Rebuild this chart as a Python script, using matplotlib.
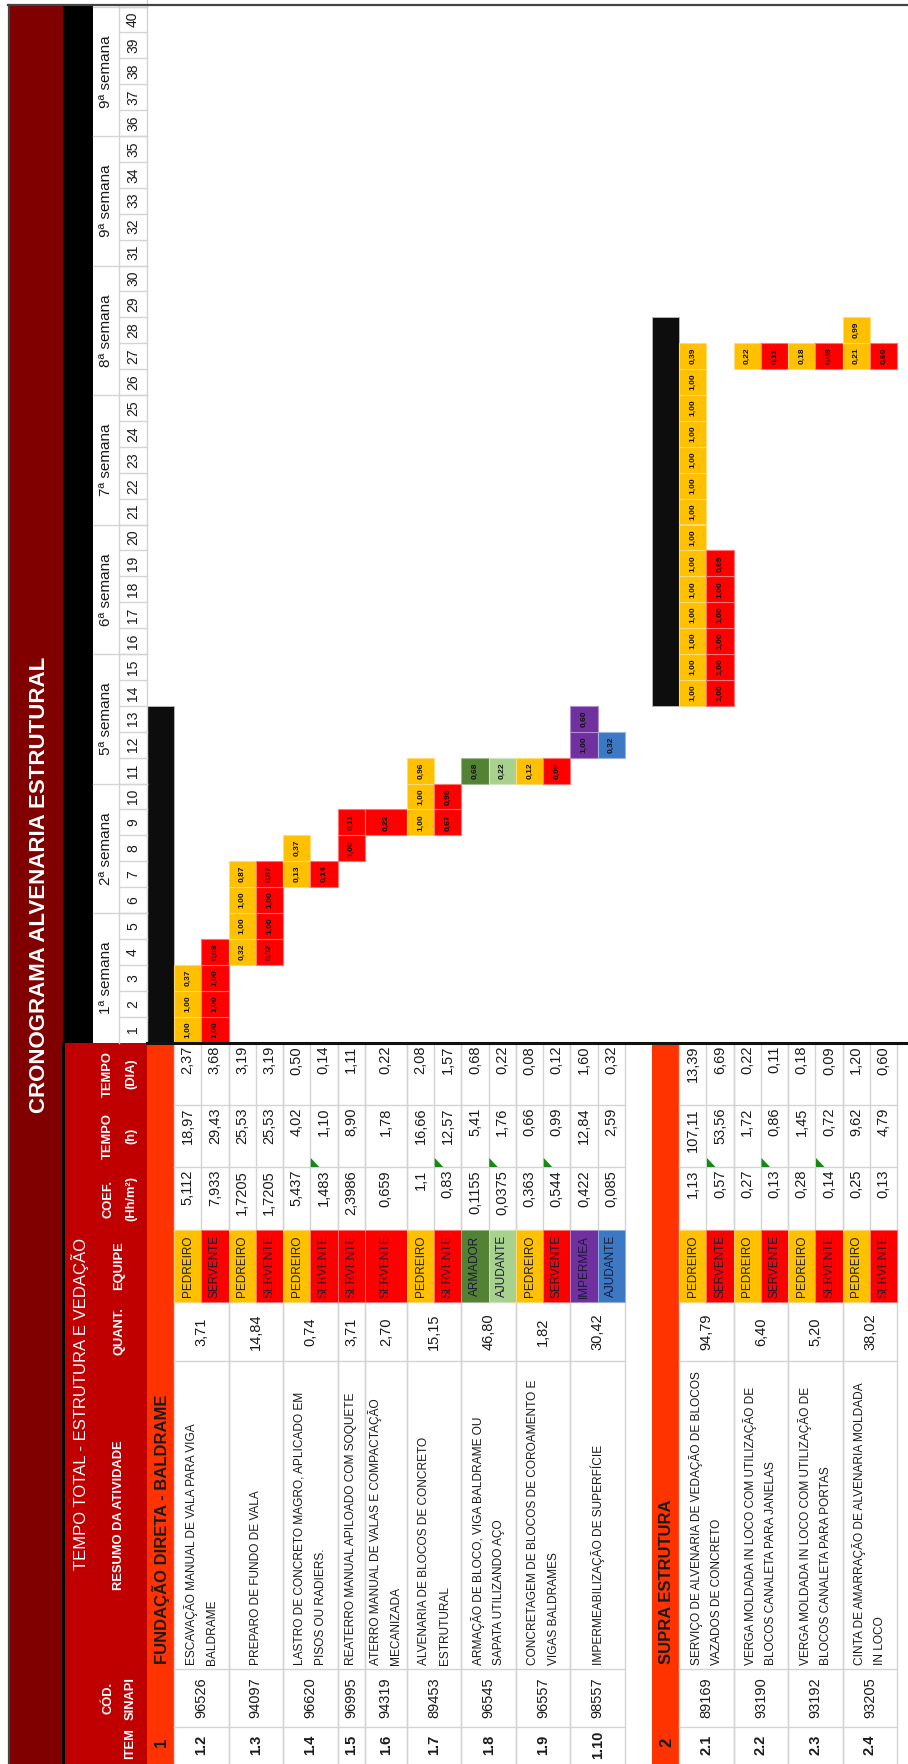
import matplotlib
matplotlib.use("Agg")
import matplotlib.pyplot as plt
from matplotlib.patches import Rectangle, Polygon

# ---------------- data ----------------
weeks = ["1ª semana", "2ª semana", "5ª semana", "6ª semana",
         "7ª semana", "8ª semana", "9ª semana", "9ª semana"]
n_days = 40

sections = ["1", "2"]
section_titles = ["FUNDAÇÃO DIRETA - BALDRAME", "SUPRA ESTRUTURA"]
section_first_day = [1, 14]
section_last_day = [13, 28]

items = ["1.2", "1.3", "1.4", "1.5", "1.6", "1.7", "1.8", "1.9", "1.10",
         "2.1", "2.2", "2.3", "2.4"]
item_section = [0, 0, 0, 0, 0, 0, 0, 0, 0, 1, 1, 1, 1]
codes = ["96526", "94097", "96620", "96995", "94319", "89453", "96545",
         "96557", "98557", "89169", "93190", "93192", "93205"]
descriptions = [
    ["ESCAVAÇÃO MANUAL DE VALA PARA VIGA", "BALDRAME"],
    ["PREPARO DE FUNDO DE VALA"],
    ["LASTRO DE CONCRETO MAGRO, APLICADO EM", "PISOS OU RADIERS."],
    ["REATERRO MANUAL APILOADO COM SOQUETE"],
    ["ATERRO MANUAL DE VALAS E COMPACTAÇÃO", "MECANIZADA"],
    ["ALVENARIA DE BLOCOS DE CONCRETO", "ESTRUTURAL"],
    ["ARMAÇÃO DE BLOCO, VIGA BALDRAME OU", "SAPATA UTILIZANDO AÇO"],
    ["CONCRETAGEM DE BLOCOS DE COROAMENTO E", "VIGAS BALDRAMES"],
    ["IMPERMEABILIZAÇÃO DE SUPERFÍCIE"],
    ["SERVIÇO DE ALVENARIA DE VEDAÇÃO DE BLOCOS", "VAZADOS DE CONCRETO"],
    ["VERGA MOLDADA IN LOCO COM UTILIZAÇÃO DE", "BLOCOS CANALETA PARA JANELAS"],
    ["VERGA MOLDADA IN LOCO COM UTILIZAÇÃO DE", "BLOCOS CANALETA PARA PORTAS"],
    ["CINTA DE AMARRAÇÃO DE ALVENARIA MOLDADA", "IN LOCO"],
]
quantities = [3.71, 14.84, 0.74, 3.71, 2.70, 15.15, 46.80, 1.82, 30.42,
              94.79, 6.40, 5.20, 38.02]
crews = [["PEDREIRO", "SERVENTE"], ["PEDREIRO", "SERVENTE"],
         ["PEDREIRO", "SERVENTE"], ["SERVENTE"], ["SERVENTE"],
         ["PEDREIRO", "SERVENTE"], ["ARMADOR", "AJUDANTE"],
         ["PEDREIRO", "SERVENTE"], ["IMPERMEA", "AJUDANTE"],
         ["PEDREIRO", "SERVENTE"], ["PEDREIRO", "SERVENTE"],
         ["PEDREIRO", "SERVENTE"], ["PEDREIRO", "SERVENTE"]]
coefs = [["5,112", "7,933"], ["1,7205", "1,7205"], ["5,437", "1,483"],
         ["2,3986"], ["0,659"], ["1,1", "0,83"], ["0,1155", "0,0375"],
         ["0,363", "0,544"], ["0,422", "0,085"], ["1,13", "0,57"],
         ["0,27", "0,13"], ["0,28", "0,14"], ["0,25", "0,13"]]
hours = [[18.97, 29.43], [25.53, 25.53], [4.02, 1.10], [8.90], [1.78],
         [16.66, 12.57], [5.41, 1.76], [0.66, 0.99], [12.84, 2.59],
         [107.11, 53.56], [1.72, 0.86], [1.45, 0.72], [9.62, 4.79]]
days_total = [[2.37, 3.68], [3.19, 3.19], [0.50, 0.14], [1.11], [0.22],
              [2.08, 1.57], [0.68, 0.22], [0.08, 0.12], [1.60, 0.32],
              [13.39, 6.69], [0.22, 0.11], [0.18, 0.09], [1.20, 0.60]]

# first day and daily share of each crew in the schedule
start_day = [[1, 1], [4, 4], [7, 7], [8], [9], [9, 9], [11, 11], [11, 11],
             [12, 12], [14, 14], [27, 27], [27, 27], [27, 27]]
daily_share = [
    [[1.00, 1.00, 0.37], [1.00, 1.00, 1.00, 0.68]],
    [[0.32, 1.00, 1.00, 0.87], [0.32, 1.00, 1.00, 0.87]],
    [[0.13, 0.37], [0.14]],
    [[1.00, 0.11]],
    [[0.22]],
    [[1.00, 1.00, 0.96], [0.67, 0.90]],
    [[0.68], [0.22]],
    [[0.12], [0.09]],
    [[1.00, 0.60], [0.32]],
    [[1.00, 1.00, 1.00, 1.00, 1.00, 1.00, 1.00, 1.00, 1.00, 1.00, 1.00,
      1.00, 1.00, 0.39],
     [1.00, 1.00, 1.00, 1.00, 1.00, 0.69]],
    [[0.22], [0.11]],
    [[0.18], [0.09]],
    [[0.21, 0.99], [0.60]],
]
# cells flagged with the little green marker in the hours column
flagged = [(2, 1), (5, 1), (6, 1), (7, 1), (9, 1), (10, 1), (11, 1)]

# ---------------- styles ----------------
DARK_RED = "#800000"
HEAD_RED = "#c00000"
ORANGE = "#ff3300"
YELLOW = "#ffc000"
RED = "#ff0000"
GRID = "#d4d4d4"
TXT = "#1a1a1a"
crew_fill = [[YELLOW, RED], [YELLOW, RED], [YELLOW, RED], [RED], [RED],
             [YELLOW, RED], ["#548235", "#a9d18e"], [YELLOW, RED],
             ["#7030a0", "#3d78c4"], [YELLOW, RED], [YELLOW, RED],
             [YELLOW, RED], [YELLOW, RED]]

SANS = ["Liberation Sans", "DejaVu Sans"]

W, H = 908, 1764
fig = plt.figure(figsize=(W / 100, H / 100), dpi=100)
ax = fig.add_axes([0, 0, 1, 1])
ax.set_xlim(0, W)
ax.set_ylim(H, 0)
ax.axis("off")

# sheet is laid out sideways: columns run along y, rows along x
DAY0, DW = 1042.5, 25.9          # bottom edge of day 1 and day width
U = 27.25                        # height of one crew row
X_BODY = 147                     # first row below the headers
col = {"dia": (1043, 1105), "h": (1105, 1167), "coef": (1167, 1230),
       "equipe": (1230, 1302), "quant": (1302, 1361), "resumo": (1361, 1669),
       "cod": (1669, 1727), "item": (1727, H)}
TABLE_Y0 = 1043


def day_span(d):
    return DAY0 - d * DW, DAY0 - (d - 1) * DW


def box(x0, x1, y0, y1, fc, ec="none", lw=0.0, z=1):
    ax.add_patch(Rectangle((x0, y0), x1 - x0, y1 - y0, facecolor=fc,
                           edgecolor=ec, linewidth=lw, zorder=z))


def vtext(x, y, s, ha="center", size=10, color=TXT, weight="normal", z=5):
    ax.text(x, y, s, rotation=90, rotation_mode="anchor", ha=ha,
            va="center", fontsize=size, family=SANS, color=color,
            fontweight=weight, zorder=z)


def fmt(v):
    return f"{v:.2f}".replace(".", ",")


def tint(c, k=0.45):
    r, g, b = matplotlib.colors.to_rgb(c)
    return (r + (1 - r) * k, g + (1 - g) * k, b + (1 - b) * k)


# ---- frame, title strip, header bands ----
box(10, 63, 6, H, DARK_RED, z=1)
vtext(40, 885, "CRONOGRAMA ALVENARIA ESTRUTURAL", size=16,
      color="white", weight="bold")
box(63, 93, 6, TABLE_Y0, "#000000")
box(62, 65, TABLE_Y0, H, "#000000")
box(65, X_BODY, TABLE_Y0, H, HEAD_RED)
ax.plot([8, W], [5, 5], color="#444444", lw=1.6, zorder=6)
ax.plot([9, 9], [5, H], color="#444444", lw=1.6, zorder=6)

# week and day header cells
box(93, X_BODY, 6, TABLE_Y0, "white")
for k, wk in enumerate(weeks):
    y_lo = day_span(5 * k + 1)[1]
    y_hi = day_span(5 * k + 5)[0]
    ax.plot([93, X_BODY], [y_hi, y_hi], color=GRID, lw=1, zorder=3)
    vtext(106, (y_lo + y_hi) / 2, wk, size=11)
for d in range(1, n_days + 1):
    y_hi, y_lo = day_span(d)
    ax.plot([119, X_BODY], [y_hi, y_hi], color=GRID, lw=1, zorder=3)
    vtext(133, (y_lo + y_hi) / 2, str(d), size=10)
ax.plot([119, 119], [6, TABLE_Y0], color=GRID, lw=1, zorder=3)
ax.plot([X_BODY, X_BODY], [0, TABLE_Y0], color=GRID, lw=1, zorder=3)

# table header labels
vtext(80, (TABLE_Y0 + H) / 2, "TEMPO TOTAL - ESTRUTURA E VEDAÇÃO", size=12,
      color="white")
two_line = {"dia": ("TEMPO", "(DIA)"), "h": ("TEMPO", "(h)"),
            "coef": ("COEF.", "(Hh/m²)"), "cod": ("CÓD.", "SINAPI")}
for key, (a, b) in two_line.items():
    yc = sum(col[key]) / 2
    vtext(108, yc, a, size=9.3, color="white", weight="bold")
    vtext(131, yc, b, size=9.3, color="white", weight="bold")
for key, lab in [("equipe", "EQUIPE"), ("quant", "QUANT."),
                 ("resumo", "RESUMO DA ATIVIDADE")]:
    vtext(119, sum(col[key]) / 2, lab, size=9.3, color="white",
          weight="bold")
vtext(130, 1744, "ITEM", size=9.3, color="white", weight="bold")

# ---- row layout ----
item_rows = []
x = X_BODY
section_x = []
for s in range(len(sections)):
    if s > 0:
        x += U                     # blank spacer row
    section_x.append((x, x + 27))
    x += 27
    for i in range(len(items)):
        if item_section[i] != s:
            continue
        n = len(crews[i])
        h = U * 1.55 if (n == 1 and len(descriptions[i]) == 2) else U
        subs = []
        for _ in range(n):
            subs.append((x, x + h))
            x += h
        item_rows.append(subs)

# section rows: orange in the table, black bar across its days
for s, (x0, x1) in enumerate(section_x):
    box(x0, x1, TABLE_Y0, H, ORANGE)
    vtext((x0 + x1) / 2 + 1, 1742, sections[s], size=12, weight="bold")
    vtext((x0 + x1) / 2 + 1, 1664, section_titles[s], ha="left", size=12,
          weight="bold")
    ya = day_span(section_last_day[s])[0]
    yb = day_span(section_first_day[s])[1]
    box(x0, x1, ya, yb, "#0d0d0d", ec="#bbbbbb", lw=0.6, z=2)

# ---- items ----
for i, subs in enumerate(item_rows):
    x0, x1 = subs[0][0], subs[-1][1]
    xc = (x0 + x1) / 2
    vtext(xc, 1745, items[i], size=10.5, weight="bold")
    vtext(xc, 1698, codes[i], size=10.5)
    vtext(xc, sum(col["quant"]) / 2, fmt(quantities[i]), size=10.5)
    lines = descriptions[i]
    if len(lines) == 1:
        vtext(xc, 1665, lines[0], ha="left", size=8.6)
    else:
        vtext(xc - 10.5, 1665, lines[0], ha="left", size=8.6)
        vtext(xc + 10.5, 1665, lines[1], ha="left", size=8.6)

    for j, (a, b) in enumerate(subs):
        c = (a + b) / 2
        box(a, b, *col["equipe"], crew_fill[i][j], ec=tint(crew_fill[i][j]),
            lw=0.6, z=2)
        vtext(c, sum(col["equipe"]) / 2, crews[i][j], size=8.5,
              color="#1a1a33")
        vtext(c, col["coef"][0] + 3, coefs[i][j], ha="right", size=10.5)
        vtext(c, col["h"][0] + 3, fmt(hours[i][j]), ha="right", size=10.5)
        vtext(c, col["dia"][0] + 3, fmt(days_total[i][j]), ha="right",
              size=10.5)
        if j > 0:
            ax.plot([a, a], [TABLE_Y0, col["equipe"][1]], color=GRID,
                    lw=1, zorder=1.5)
        if (i, j) in flagged:
            yb = col["h"][1]
            ax.add_patch(Polygon([(a + 0.5, yb), (a + 9, yb), (a + 0.5, yb - 9)],
                                 closed=True, facecolor="#138a13",
                                 edgecolor="none", zorder=4))

        # schedule cells
        for k, v in enumerate(daily_share[i][j]):
            ya, yb = day_span(start_day[i][j] + k)
            box(a, b, ya, yb, crew_fill[i][j], ec=tint(crew_fill[i][j]),
                lw=0.8, z=2)
            vtext(c, (ya + yb) / 2, fmt(v), size=6, weight="bold",
                  color="#111111")

    # item borders across the whole table
    for xe in (x0, x1):
        ax.plot([xe, xe], [TABLE_Y0, H], color=GRID, lw=1, zorder=1.5)
    for key in ["h", "coef", "equipe", "quant", "resumo", "cod", "item"]:
        ye = col[key][0]
        ax.plot([x0, x1], [ye, ye], color=GRID, lw=1, zorder=1.5)

# line between schedule and table
ax.plot([X_BODY, W], [TABLE_Y0, TABLE_Y0], color="#111111", lw=2.2, zorder=6)

fig.savefig("out.png", dpi=100, facecolor="white")
